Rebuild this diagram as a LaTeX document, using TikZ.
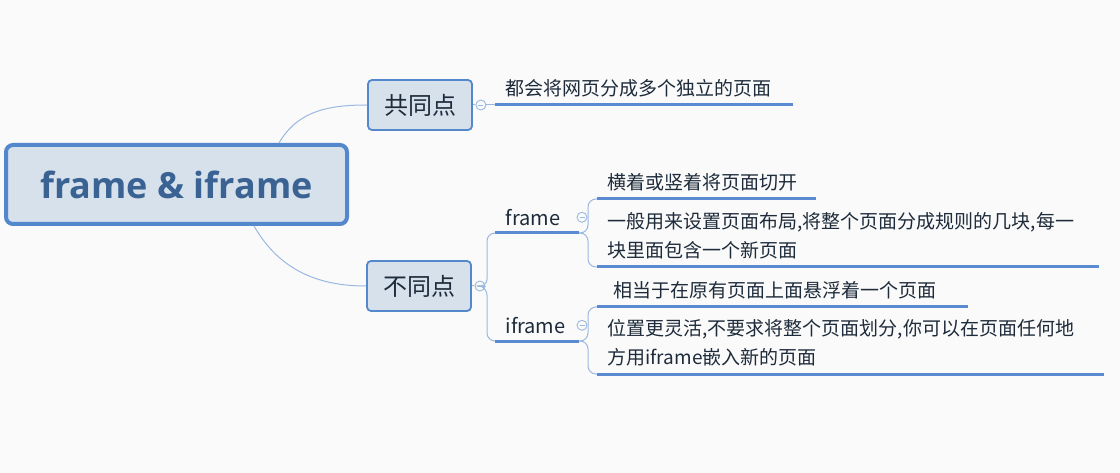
\documentclass[tikz,border=0pt]{standalone}
\usepackage{fontspec}
\setmainfont{Noto Sans CJK SC}
\newfontfamily\titlefont{Open Sans}
\definecolor{bgcol}{HTML}{FAFAFA}
\definecolor{boxfill}{HTML}{D6E1EC}
\definecolor{boxline}{HTML}{5388CC}
\definecolor{titletxt}{HTML}{3A6394}
\definecolor{bodytxt}{HTML}{1E2B3A}
\definecolor{linkcol}{HTML}{9BB8E0}
\definecolor{ulcol}{HTML}{5A8BD0}

\begin{document}
\begin{tikzpicture}[x=1pt,y=-1pt, line width=1pt]
    \tikzstyle{root} = [draw=boxline, fill=boxfill, line width=4pt, rounded corners=7pt, minimum width=341pt, minimum height=79pt, text=titletxt, font=\titlefont\bfseries\fontsize{36}{40}\selectfont]
    \tikzstyle{branch} = [draw=boxline, fill=boxfill, line width=1.8pt, rounded corners=4pt, minimum width=104pt, minimum height=50pt, text=bodytxt, font=\fontsize{24}{28}\selectfont]
    \tikzstyle{leaf} = [anchor=south west, inner xsep=10pt, inner ysep=7pt, align=left, text=bodytxt, font=\fontsize{19}{29}\selectfont]
    \tikzstyle{fold} = [circle, draw=linkcol, fill=bgcol, line width=0.9pt, minimum size=10pt, inner sep=0pt, path picture={\draw[linkcol, line width=0.7pt] ([xshift=2.5pt]path picture bounding box.west) -- ([xshift=-2.5pt]path picture bounding box.east);}]
    \tikzstyle{link} = [draw=linkcol, line width=1pt]
    \tikzstyle{uline} = [draw=ulcol, line width=3pt]

    % Background
    \fill[bgcol] (0,0) rectangle (1120,473);
    \useasboundingbox (0,0) rectangle (1120,473);

    % Main topic and the two branches
    \node[root] (root) at (176.5,184.5) {frame \& iframe};
    \node[branch] (common) at (420,105) {共同点};
    \node[branch] (diff) at (419,286) {不同点};

    \draw[link] ([xshift=-70pt]root.north east) to[out=60,in=180] (common.west);
    \draw[link] ([xshift=-95pt]root.south east) to[out=-60,in=180] (diff.west);

    % Branch 1
    \node[fold] (cfold) at ([xshift=8pt]common.east) {};
    \node[leaf, text width=277pt] (same) at (495,105) {都会将网页分成多个独立的页面};
    \draw[link] (common.east) -- (cfold);
    \draw[link] (cfold) -- (same.south west);
    \draw[uline] (same.south west) -- (same.south east);

    % Branch 2
    \node[fold] (dfold) at ([xshift=8pt]diff.east) {};
    \coordinate (dsplit) at (487,287);
    \node[leaf, text width=63pt, font=\fontsize{20}{24}\selectfont] (frame) at (495,233) {frame};
    \node[leaf, text width=63pt, font=\fontsize{20}{24}\selectfont] (iframe) at (495,341) {iframe};
    \draw[link] (diff.east) -- (dfold);
    \draw[link, rounded corners=8pt] (dfold) -- (dsplit) |- (frame.south west);
    \draw[link, rounded corners=8pt] (dfold) -- (dsplit) |- (iframe.south west);
    \draw[uline] (frame.south west) -- (frame.south east);
    \draw[uline] (iframe.south west) -- (iframe.south east);

    % frame
    \node[fold] (ffold) at ([xshift=3pt]frame.east) {};
    \coordinate (fsplit) at (588,233);
    \node[leaf, text width=198pt] (fcut) at (597,199) {横着或竖着将页面切开};
    \node[leaf, text width=481pt] (flayout) at (597,267) {一般用来设置页面布局,将整个页面分成规则的几块,每一\\块里面包含一个新页面};
    \draw[link, rounded corners=8pt] (frame.south east) -- (fsplit) |- (fcut.south west);
    \draw[link, rounded corners=8pt] (frame.south east) -- (fsplit) |- (flayout.south west);
    \draw[uline] (fcut.south west) -- (fcut.south east);
    \draw[uline] (flayout.south west) -- (flayout.south east);

    % iframe
    \node[fold] (ifold) at ([xshift=3pt]iframe.east) {};
    \coordinate (isplit) at (588,341);
    \node[leaf, text width=338pt, inner xsep=16pt] (ifloat) at (597,307) {相当于在原有页面上面悬浮着一个页面};
    \node[leaf, text width=486pt] (iflex) at (597,374) {位置更灵活,不要求将整个页面划分,你可以在页面任何地\\方用iframe嵌入新的页面};
    \draw[link, rounded corners=8pt] (iframe.south east) -- (isplit) |- (ifloat.south west);
    \draw[link, rounded corners=8pt] (iframe.south east) -- (isplit) |- (iflex.south west);
    \draw[uline] (ifloat.south west) -- (ifloat.south east);
    \draw[uline] (iflex.south west) -- (iflex.south east);
\end{tikzpicture}
\end{document}
